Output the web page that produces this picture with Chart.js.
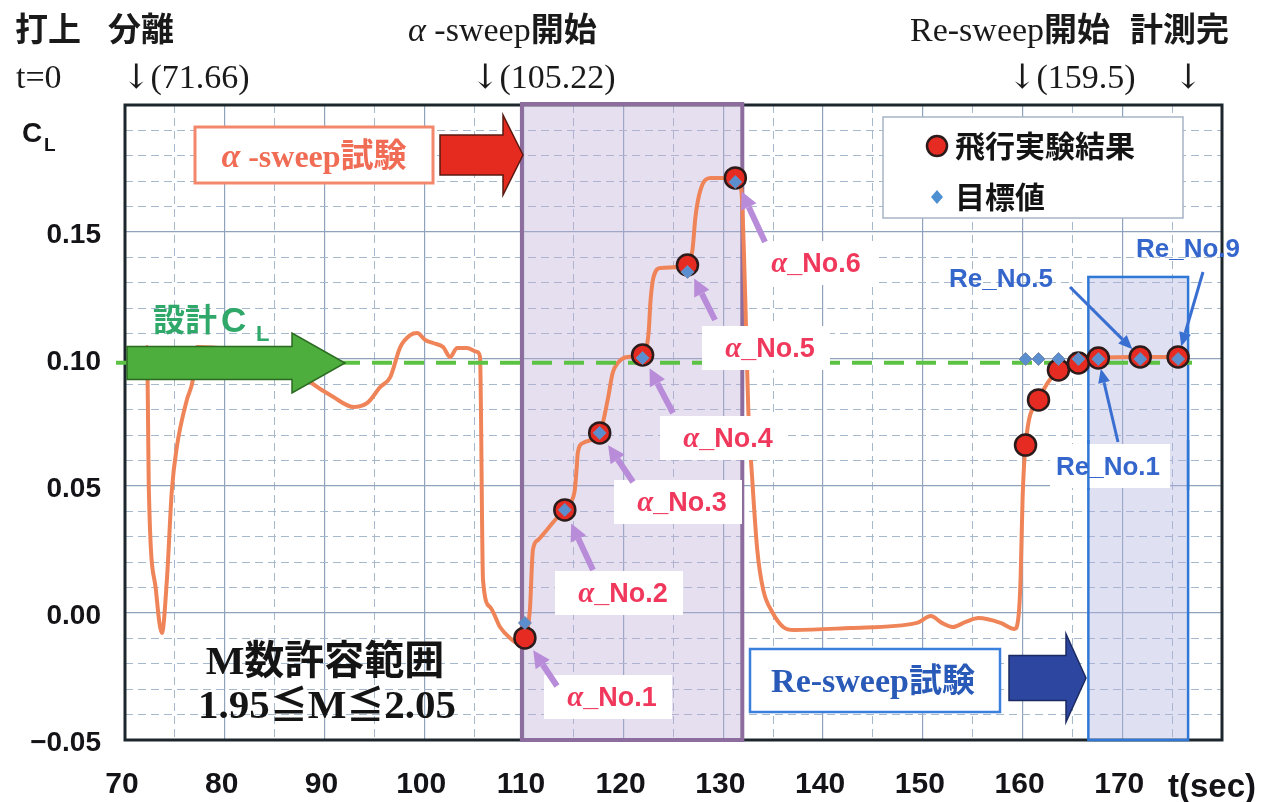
<!DOCTYPE html>
<html>
<head>
<meta charset="utf-8">
<script src="https://cdn.jsdelivr.net/npm/chart.js@4.4.1/dist/chart.umd.min.js"></script>
<style>
  html, body { margin: 0; padding: 0; background: #ffffff; }
  #wrap { width: 1266px; height: 802px; position: relative; }
  canvas { display: block; }
</style>
</head>
<body>
<div id="wrap"><canvas id="chart" width="1266" height="802"></canvas></div>
<script>
// ---- flight record: lift coefficient C_L against time t (sec) ----
const flightTime = [
  72.0, 72.2, 72.4, 73.1, 73.7, 74.2, 74.7, 75.2, 76.2, 76.8, 77.2,
  80.0, 84.0, 87.0, 88.3, 90.9, 92.9, 94.3, 95.6, 96.6, 97.6, 98.6, 99.3,
  100.1, 100.9, 101.9, 102.6, 103.3, 104.3, 105.3, 105.6, 105.9, 106.6,
  107.6, 108.6, 109.4, 110.1, 110.6, 110.9, 111.4, 112.3, 113.3, 114.1,
  114.6, 115.1, 115.3, 115.4, 115.9, 117.6, 118.4, 118.9, 119.4, 120.4,
  121.9, 122.5, 122.7, 123.0, 123.7, 126.4, 126.9, 127.2, 127.7, 128.7,
  131.2, 131.8, 132.2, 132.5, 132.9, 133.4, 134.0, 134.9, 136.0, 137.1,
  142.7, 149.4, 150.8, 151.9, 153.0, 154.3, 155.6, 157.8, 159.2, 159.6,
  159.8, 160.0, 160.3, 161.6, 163.6, 165.6, 167.6, 171.8, 175.6, 176.6
];
const flightCL = [
  0.0988, 0.1047, 0.0472, 0.0090, -0.0079, 0.0130, 0.0484, 0.0654, 0.0839, 0.0917, 0.1047,
  0.1040, 0.1000, 0.0960, 0.0917, 0.0850, 0.0811, 0.0827, 0.0890, 0.0929, 0.1047, 0.1094, 0.1102,
  0.1075, 0.1063, 0.1047, 0.1008, 0.1043, 0.1043, 0.1028, 0.1008, 0.0130, 0.0024,
  -0.0055, -0.0098, -0.0118, -0.0098, 0.0012, 0.0248, 0.0287, 0.0327, 0.0374, 0.0406,
  0.0433, 0.0484, 0.0575, 0.0630, 0.0669, 0.0709, 0.0839, 0.0945, 0.0984, 0.1008,
  0.1016, 0.1102, 0.1232, 0.1323, 0.1358, 0.1370, 0.1429, 0.1559, 0.1665, 0.1713,
  0.1713, 0.1665, 0.1232, 0.0799, 0.0524, 0.0248, 0.0091, 0.0004, -0.0055, -0.0067,
  -0.0059, -0.0039, -0.0012, -0.0039, -0.0055, -0.0035, -0.0020, -0.0039, -0.0063, -0.0012,
  0.0130, 0.0445, 0.0661, 0.0839, 0.0957, 0.0984, 0.1004, 0.1008, 0.1008, 0.1008
];

// ---- alpha-sweep test points (No.1 - No.6) ----
const alphaTime   = [110.1, 114.1, 117.6, 121.9, 126.4, 131.2];
const alphaCL     = [-0.0098, 0.0406, 0.0709, 0.1016, 0.1370, 0.1713];
const alphaTarget = [-0.0039, 0.0406, 0.0709, 0.1004, 0.1343, 0.1697];

// ---- Re-sweep test points ----
const reTime   = [160.3, 161.6, 163.6, 165.6, 167.6, 171.8, 175.6];
const reCL     = [0.0661, 0.0839, 0.0957, 0.0984, 0.1004, 0.1008, 0.1008];
const reTarget = [0.1000, 0.1000, 0.1000, 0.1000, 0.1000, 0.1000, 0.1000];

// ---- design lift coefficient and sweep windows ----
const designCL = 0.0985;
const designSpan = [69.1, 177.3];
const alphaSweepWindow = [109.8, 131.9];
const reSweepWindow = [166.6, 176.6];
const reSweepTop = 0.1323;

// ---- axis ticks ----
const xTickValues = [70, 80, 90, 100, 110, 120, 130, 140, 150, 160, 170];
const xUnitLabel = 't(sec)';
const yTickLabels = { '-0.05': '\u22120.05', '0.00': '0.00', '0.05': '0.05', '0.10': '0.10', '0.15': '0.15' };

const pts = (xs, ys) => xs.map((x, i) => ({ x: x, y: ys[i] }));

const SERIF = '"Liberation Serif", "Times New Roman", serif';
const SANS = '"Liberation Sans", Arial, sans-serif';
const CJK = '"Noto Sans CJK JP", sans-serif';

// draw a row of differently styled text pieces
function runs(ctx, x, y, parts, align) {
  let total = 0;
  parts.forEach(p => { ctx.font = p[1]; total += ctx.measureText(p[0]).width; });
  let cx = align === 'center' ? x - total / 2 : (align === 'right' ? x - total : x);
  ctx.textAlign = 'left';
  parts.forEach(p => {
    ctx.font = p[1];
    ctx.fillStyle = p[2];
    ctx.fillText(p[0], cx, y);
    cx += ctx.measureText(p[0]).width;
  });
}

// wide block arrow pointing right
function blockArrow(ctx, x0, x1, yc, bodyH, headL, headH, fill, stroke) {
  ctx.beginPath();
  ctx.moveTo(x0, yc - bodyH / 2);
  ctx.lineTo(x1 - headL, yc - bodyH / 2);
  ctx.lineTo(x1 - headL, yc - headH / 2);
  ctx.lineTo(x1, yc);
  ctx.lineTo(x1 - headL, yc + headH / 2);
  ctx.lineTo(x1 - headL, yc + bodyH / 2);
  ctx.lineTo(x0, yc + bodyH / 2);
  ctx.closePath();
  ctx.fillStyle = fill;
  ctx.fill();
  ctx.lineWidth = 1.5;
  ctx.strokeStyle = stroke;
  ctx.stroke();
}

// thin pointer arrow
function lineArrow(ctx, x0, y0, x1, y1, w, color, headL, headW) {
  const a = Math.atan2(y1 - y0, x1 - x0);
  const bx = x1 - Math.cos(a) * headL, by = y1 - Math.sin(a) * headL;
  ctx.strokeStyle = color;
  ctx.lineWidth = w;
  ctx.lineCap = 'butt';
  ctx.beginPath();
  ctx.moveTo(x0, y0);
  ctx.lineTo(bx, by);
  ctx.stroke();
  ctx.fillStyle = color;
  ctx.beginPath();
  ctx.moveTo(x1, y1);
  ctx.lineTo(bx + Math.sin(a) * headW / 2, by - Math.cos(a) * headW / 2);
  ctx.lineTo(bx - Math.sin(a) * headW / 2, by + Math.cos(a) * headW / 2);
  ctx.closePath();
  ctx.fill();
}

// pointer that stops just short of a marker
function pointAt(ctx, sx, sy, px, py, gap, w, color, headL, headW) {
  const d = Math.hypot(sx - px, sy - py);
  const ex = px + (sx - px) / d * gap, ey = py + (sy - py) / d * gap;
  lineArrow(ctx, sx, sy, ex, ey, w, color, headL, headW);
}

const backdrop = {
  id: 'backdrop',
  beforeDraw(chart) {
    const c = chart.ctx;
    c.save();
    c.fillStyle = '#ffffff';
    c.fillRect(0, 0, chart.width, chart.height);
    c.restore();
  }
};

// plot frame and the two sweep windows
const sweepWindows = {
  id: 'sweepWindows',
  beforeDatasetsDraw(chart) {
    const c = chart.ctx, a = chart.chartArea, x = chart.scales.x, y = chart.scales.y;
    c.save();
    c.strokeStyle = '#1d262c';
    c.lineWidth = 3;
    c.strokeRect(a.left, a.top, a.right - a.left, a.bottom - a.top);

    const ax0 = x.getPixelForValue(alphaSweepWindow[0]), ax1 = x.getPixelForValue(alphaSweepWindow[1]);
    c.fillStyle = 'rgba(188, 172, 214, 0.38)';
    c.fillRect(ax0, a.top - 1, ax1 - ax0, a.bottom - a.top + 1);
    c.strokeStyle = '#8d6d9e';
    c.lineWidth = 4;
    c.strokeRect(ax0, a.top - 1, ax1 - ax0, a.bottom - a.top + 1);

    const rx0 = x.getPixelForValue(reSweepWindow[0]), rx1 = x.getPixelForValue(reSweepWindow[1]);
    const ry = y.getPixelForValue(reSweepTop);
    c.fillStyle = 'rgba(178, 178, 226, 0.4)';
    c.fillRect(rx0, ry, rx1 - rx0, a.bottom - ry);
    c.strokeStyle = '#2f78d6';
    c.lineWidth = 2.5;
    c.strokeRect(rx0, ry, rx1 - rx0, a.bottom - ry);
    c.restore();
  }
};

// callouts, legend and captions
const callouts = {
  id: 'callouts',
  afterDatasetsDraw(chart) {
    const c = chart.ctx, x = chart.scales.x, y = chart.scales.y, a = chart.chartArea;
    c.save();
    c.textBaseline = 'alphabetic';

    // design C_L arrow and caption
    blockArrow(c, a.left + 2, 345, 363, 33, 53, 60, '#4dae3d', '#2c6a22');
    runs(c, 153, 331, [['設計', 'bold 32px ' + CJK, '#2fa86a']], 'left');
    runs(c, 221, 332, [['C', 'bold 35px ' + SANS, '#2fa86a']], 'left');
    runs(c, 256, 341, [['L', 'bold 22px ' + SANS, '#2fa86a']], 'left');

    // alpha-sweep test caption
    c.fillStyle = '#ffffff';
    c.fillRect(195, 127, 238, 56);
    c.strokeStyle = '#f2876c';
    c.lineWidth = 3;
    c.strokeRect(195, 127, 238, 56);
    runs(c, 314, 167, [
      ['α', 'italic bold 34px ' + SERIF, '#f06c55'],
      [' -sweep', 'bold 32px ' + SERIF, '#f06c55'],
      ['試験', 'bold 33px ' + CJK, '#f06c55']
    ], 'center');
    blockArrow(c, 440, 523, 155, 40, 20, 80, '#e52a1f', '#5a1a12');

    // Re-sweep test caption
    c.fillStyle = '#ffffff';
    c.fillRect(750, 649, 250, 63);
    c.strokeStyle = '#3a80dc';
    c.lineWidth = 2.5;
    c.strokeRect(750, 649, 250, 63);
    runs(c, 873, 692, [
      ['Re-sweep', 'bold 34px ' + SERIF, '#2a5ab8'],
      ['試験', 'bold 33px ' + CJK, '#2a5ab8']
    ], 'center');
    blockArrow(c, 1009, 1086, 678, 45, 20, 88, '#2d46a0', '#1b2a62');

    // alpha-sweep point labels
    const alphaLabels = [
      { cx: 612, cy: 697, sx: 557, sy: 686 },
      { cx: 623, cy: 593, sx: 593, sy: 570 },
      { cx: 682, cy: 502, sx: 633, sy: 482 },
      { cx: 728, cy: 438, sx: 673, sy: 413 },
      { cx: 770, cy: 348, sx: 715, sy: 320 },
      { cx: 816, cy: 263, sx: 765, sy: 242 }
    ];
    alphaLabels.forEach((L, i) => {
      c.fillStyle = '#ffffff';
      c.fillRect(L.cx - 68, L.cy - 22, 128, 44);
      runs(c, L.cx, L.cy + 9, [
        ['α', 'italic bold 29px ' + SERIF, '#f0385c'],
        ['_No.' + (i + 1), 'bold 27px ' + SANS, '#f0385c']
      ], 'center');
      pointAt(c, L.sx, L.sy, x.getPixelForValue(alphaTime[i]), y.getPixelForValue(alphaCL[i]),
        15, 6, '#b88cd8', 17, 17);
    });

    // Re-sweep point labels (No.1, No.5, No.9)
    const rx0 = x.getPixelForValue(reSweepWindow[0]), rx1 = x.getPixelForValue(reSweepWindow[1]);
    c.fillStyle = '#ffffff';
    c.fillRect(1050, 444, 120, 44);
    c.strokeStyle = '#2f78d6';
    c.lineWidth = 2.5;
    c.beginPath();
    c.moveTo(rx0, 440); c.lineTo(rx0, 490);
    c.moveTo(rx1, 440); c.lineTo(rx1, 490);
    c.stroke();
    const reLabels = [
      { text: 'Re_No.1', idx: 4, cx: 1108, cy: 466, sx: 1118, sy: 442 },
      { text: 'Re_No.5', idx: 5, cx: 1001, cy: 278, sx: 1070, sy: 287 },
      { text: 'Re_No.9', idx: 6, cx: 1188, cy: 248, sx: 1203, sy: 272 }
    ];
    reLabels.forEach(L => {
      runs(c, L.cx, L.cy + 9, [[L.text, 'bold 26px ' + SANS, '#3466cc']], 'center');
      pointAt(c, L.sx, L.sy, x.getPixelForValue(reTime[L.idx]), y.getPixelForValue(reCL[L.idx]),
        11, 3, '#3a6fd2', 14, 12);
    });

    // legend
    c.fillStyle = '#ffffff';
    c.fillRect(883, 117, 300, 101);
    c.strokeStyle = '#a7b4c6';
    c.lineWidth = 1.5;
    c.strokeRect(883, 117, 300, 101);
    c.beginPath();
    c.arc(937, 146, 10, 0, Math.PI * 2);
    c.fillStyle = '#e52b22';
    c.fill();
    c.lineWidth = 2.5;
    c.strokeStyle = '#2b1b1b';
    c.stroke();
    runs(c, 955, 157, [['飛行実験結果', 'bold 30px ' + CJK, '#141414']], 'left');
    c.beginPath();
    c.moveTo(937, 190); c.lineTo(943, 197); c.lineTo(937, 204); c.lineTo(931, 197);
    c.closePath();
    c.fillStyle = '#4d90d2';
    c.fill();
    runs(c, 955, 208, [['目標値', 'bold 30px ' + CJK, '#141414']], 'left');

    // allowed Mach number range
    runs(c, 325, 674, [['M', 'bold 41px ' + SERIF, '#141414'], ['数許容範囲', 'bold 40px ' + CJK, '#141414']], 'center');
    runs(c, 327, 718, [
      ['1.95', 'bold 41px ' + SERIF, '#141414'],
      ['≦', 'bold 38px ' + CJK, '#141414'],
      ['M', 'bold 41px ' + SERIF, '#141414'],
      ['≦', 'bold 38px ' + CJK, '#141414'],
      ['2.05', 'bold 41px ' + SERIF, '#141414']
    ], 'center');
    c.restore();
  },
  afterDraw(chart) {
    const c = chart.ctx, x = chart.scales.x;
    c.save();
    c.textBaseline = 'alphabetic';
    const ink = '#1a1a1a';
    const lat = '34px ' + SERIF;
    const han = 'bold 33px ' + CJK;
    const arrowFont = '34px "DejaVu Serif", ' + SERIF;

    // event timeline along the top
    runs(c, 15, 41, [['打上', han, ink]], 'left');
    runs(c, 108, 41, [['分離', han, ink]], 'left');
    runs(c, 16, 88, [['t=0', lat, ink]], 'left');
    runs(c, 122, 88, [['↓', arrowFont, ink], ['(71.66)', lat, ink]], 'left');
    runs(c, 408, 41, [['α', 'italic 34px ' + SERIF, ink], [' -sweep', lat, ink], ['開始', han, ink]], 'left');
    runs(c, 471, 88, [['↓', arrowFont, ink], ['(105.22)', lat, ink]], 'left');
    runs(c, 910, 41, [['Re-sweep', lat, ink], ['開始', han, ink]], 'left');
    runs(c, 1130, 41, [['計測完', han, ink]], 'left');
    runs(c, 1008, 88, [['↓', arrowFont, ink], ['(159.5)', lat, ink]], 'left');
    runs(c, 1174, 88, [['↓', arrowFont, ink]], 'left');

    // axis titles
    runs(c, 22, 142, [['C', 'bold 28px ' + SANS, '#141418']], 'left');
    runs(c, 44, 151, [['L', 'bold 19px ' + SANS, '#141418']], 'left');
    c.font = 'bold 33px ' + SANS;
    c.fillStyle = '#141418';
    c.textAlign = 'center';
    c.fillText(xUnitLabel, x.getPixelForValue(180) - 10, 797);
    c.restore();
  }
};

const tickFontX = { family: 'Liberation Sans, Arial, sans-serif', size: 30, weight: 'bold' };
const tickFontY = { family: 'Liberation Sans, Arial, sans-serif', size: 28, weight: 'bold' };

new Chart(document.getElementById('chart'), {
  type: 'scatter',
  data: {
    datasets: [
      {
        label: '目標値',
        data: [...pts(alphaTime, alphaTarget), ...pts(reTime, reTarget)],
        pointStyle: 'rectRot',
        pointRadius: 6.5,
        backgroundColor: '#5a8ecf',
        borderColor: '#7588ad',
        borderWidth: 1,
        order: 0
      },
      {
        label: '飛行実験結果',
        data: [...pts(alphaTime, alphaCL), ...pts(reTime, reCL)],
        pointStyle: 'circle',
        pointRadius: 10.5,
        backgroundColor: '#e52b22',
        borderColor: '#2b1b1b',
        borderWidth: 2.5,
        order: 1
      },
      {
        label: '設計CL',
        data: pts(designSpan, [designCL, designCL]),
        showLine: true,
        borderColor: '#5cc244',
        borderWidth: 4,
        borderDash: [20, 12],
        pointRadius: 0,
        clip: false,
        order: 2
      },
      {
        label: 'CL',
        data: pts(flightTime, flightCL),
        showLine: true,
        borderColor: '#ef8459',
        borderWidth: 4,
        pointRadius: 0,
        cubicInterpolationMode: 'monotone',
        order: 3
      }
    ]
  },
  options: {
    responsive: false,
    animation: false,
    devicePixelRatio: 1,
    events: [],
    layout: { padding: { top: 105, right: 44, bottom: 0, left: 0 } },
    plugins: { legend: { display: false }, tooltip: { enabled: false } },
    scales: {
      x: {
        type: 'linear',
        min: 70, max: 180,
        afterFit: s => { s.height = 62; },
        afterBuildTicks: s => { s.ticks = [...xTickValues, 180].map(v => ({ value: v })); },
        ticks: {
          autoSkip: false, maxRotation: 0, padding: 27, labelOffset: -3, color: '#141418', font: tickFontX,
          callback: v => (xTickValues.includes(v) ? String(v) : '')
        },
        grid: { color: '#8fa4bc', lineWidth: 1.2, drawTicks: false },
        border: { display: false }
      },
      xMinor: {
        type: 'linear', position: 'bottom',
        min: 70, max: 180,
        afterFit: s => { s.height = 0; },
        ticks: { display: false, stepSize: 5 },
        grid: {
          drawTicks: false, lineWidth: 1,
          color: ctx => (ctx.tick && ctx.tick.value % 10 === 0 ? 'rgba(0,0,0,0)' : '#a6b8cc')
        },
        border: { display: false, dash: [8, 5] }
      },
      y: {
        type: 'linear',
        min: -0.05, max: 0.2,
        afterFit: s => { s.width = 125; },
        ticks: {
          stepSize: 0.05, padding: 24, labelOffset: 3, color: '#141418', font: tickFontY,
          callback: v => (yTickLabels[Number(v).toFixed(2)] || '')
        },
        grid: { color: '#8fa4bc', lineWidth: 1.2, drawTicks: false },
        border: { display: false }
      },
      yMinor: {
        type: 'linear', position: 'left',
        min: -0.05, max: 0.2,
        afterFit: s => { s.width = 0; },
        ticks: { display: false, stepSize: 0.01 },
        grid: {
          drawTicks: false, lineWidth: 1,
          color: ctx => {
            if (!ctx.tick) return '#a6b8cc';
            const k = Math.round(ctx.tick.value * 100);
            return k % 5 === 0 ? 'rgba(0,0,0,0)' : '#a6b8cc';
          }
        },
        border: { display: false, dash: [8, 5] }
      }
    }
  },
  plugins: [backdrop, sweepWindows, callouts]
});
</script>
</body>
</html>
